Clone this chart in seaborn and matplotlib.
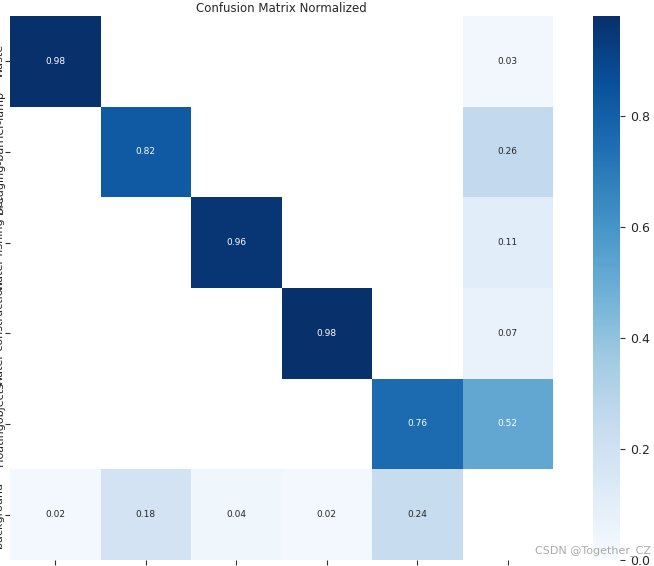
import numpy as np
import pandas as pd
import matplotlib
matplotlib.use("Agg")
import matplotlib.pyplot as plt
import seaborn as sns

# class names (predicted rows / true columns)
names = ["Waste", "Dredging-barrier-lamp", "Water-fishing-net", "Water-construction", "Floatingobjects"]
x_labels = names + ["background FN"]
y_labels = names + ["background"]

# normalized confusion matrix, nan = empty cell
row_waste = [0.98, np.nan, np.nan, np.nan, np.nan, 0.03]
row_lamp = [np.nan, 0.82, np.nan, np.nan, np.nan, 0.26]
row_net = [np.nan, np.nan, 0.96, np.nan, np.nan, 0.11]
row_constr = [np.nan, np.nan, np.nan, 0.98, np.nan, 0.07]
row_float = [np.nan, np.nan, np.nan, np.nan, 0.76, 0.52]
row_bg = [0.02, 0.18, 0.04, 0.02, 0.24, np.nan]

matrix = pd.DataFrame([row_waste, row_lamp, row_net, row_constr, row_float, row_bg],
                      index=y_labels, columns=x_labels)

sns.set_style("ticks")
plt.rcParams["font.family"] = ["DejaVu Sans"]

fig = plt.figure(figsize=(6.54, 5.66), dpi=100)
W, H = 654, 566
ax = fig.add_axes([10 / W, 6 / H, 543 / W, 544 / H])
cax = fig.add_axes([593 / W, 6 / H, 27 / W, 544 / H])

sns.heatmap(matrix, annot=True, fmt=".2f", cmap="Blues", vmin=0.0,
            annot_kws={"size": 6.5}, square=False,
            xticklabels=x_labels, yticklabels=y_labels,
            ax=ax, cbar_ax=cax)

ax.set_title("Confusion Matrix Normalized", fontsize=8.5, pad=3)
ax.tick_params(axis="both", labelsize=8, length=3.5, width=0.8, color="#333333")
ax.tick_params(axis="y", pad=0.5)
ax.set_yticklabels(y_labels, rotation=90, va="center")
ax.set_xticklabels(x_labels, rotation=0)
ax.set_xlabel("")
ax.set_ylabel("")

cax.tick_params(labelsize=9, length=3.5, width=0.8, color="#333333")
cax.set_yticks([0.0, 0.2, 0.4, 0.6, 0.8])

fig.text(0.995, 0.028, "CSDN @Together_CZ", ha="right", va="center",
         fontsize=8, color="#aaaaaa")

fig.savefig("out.png", dpi=100)
